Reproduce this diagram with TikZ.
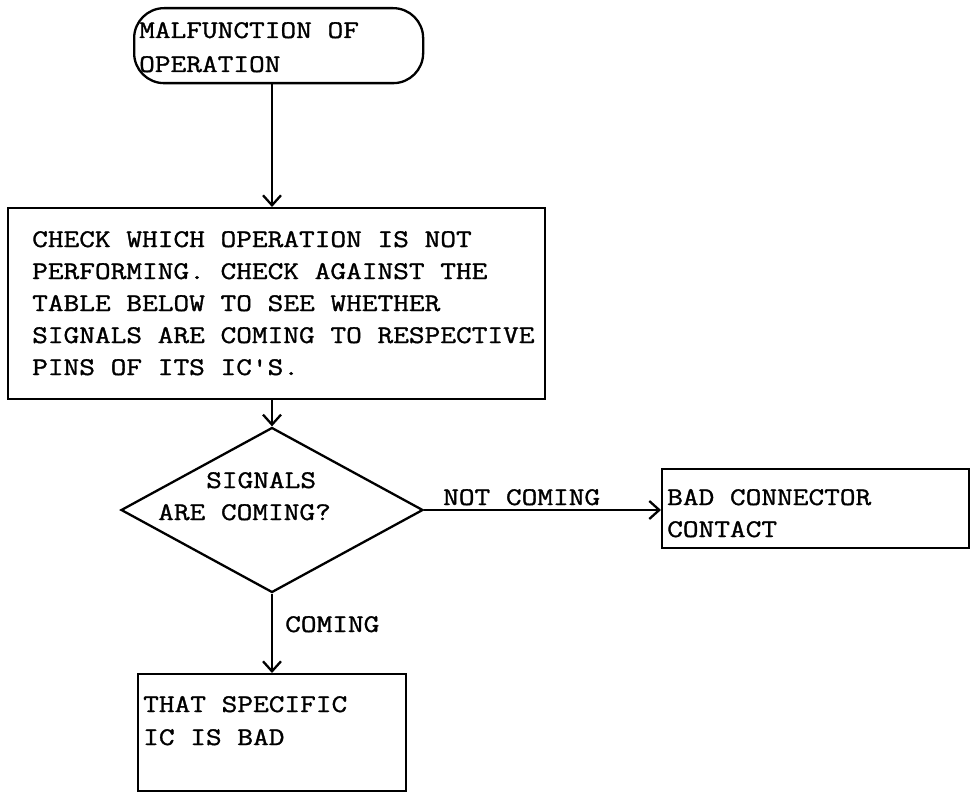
\documentclass[tikz,border=0pt]{standalone}
\usepackage{fontspec}
\setmonofont{Latin Modern Mono}[FakeStretch=1.2,FakeBold=1.3]
\usetikzlibrary{arrows.meta,shapes.geometric}
\begin{document}
\begin{tikzpicture}[x=1pt,y=-1pt,
  lbl/.style={font=\ttfamily\fontsize{25.4}{32}\selectfont, anchor=base west, inner sep=0pt},
  box/.style={draw, line width=2.3pt, inner sep=0pt, anchor=north west},
  arr/.style={line width=2.3pt, -{Straight Barb[length=10pt,width=18pt,line width=2.3pt]}}]
\useasboundingbox (0,0) rectangle (972,792);
% shapes
\node[box, rounded corners=30pt, minimum width=289, minimum height=75] (start) at (133,7) {};
\node[box, minimum width=537, minimum height=191] (main) at (7,207) {};
\node[draw, line width=2.3pt, diamond, inner sep=0pt, minimum width=302, minimum height=165] (dec) at (272,510) {};
\node[box, minimum width=307, minimum height=79] (bad) at (661,468) {};
\node[box, minimum width=268, minimum height=117] (ic) at (137,673) {};
% texts
\node[lbl] (s1) at (139,38) {MALFUNCTION OF};
\node[lbl] (s2) at (139,72) {OPERATION};
\node[lbl] (m1) at (32,247) {CHECK WHICH OPERATION IS NOT};
\node[lbl] (m2) at (32,279) {PERFORMING. CHECK AGAINST THE};
\node[lbl] (m3) at (32,311) {TABLE BELOW TO SEE WHETHER};
\node[lbl] (m4) at (32,343) {SIGNALS ARE COMING TO RESPECTIVE};
\node[lbl] (m5) at (32,375) {PINS OF ITS IC'S.};
\node[lbl] (d1) at (206,488) {SIGNALS};
\node[lbl] (d2) at (158,520) {ARE COMING?};
\node[lbl] (nc) at (443,505) {NOT COMING};
\node[lbl] (b1) at (667,505) {BAD CONNECTOR};
\node[lbl] (b2) at (667,537) {CONTACT};
\node[lbl] (co) at (285,632) {COMING};
\node[lbl] (i1) at (143,712) {THAT SPECIFIC};
\node[lbl] (i2) at (143,745) {IC IS BAD};
% connectors
\draw[arr] (start.south -| dec.north) -- (main.north -| dec.north);
\draw[arr] (main.south -| dec.north) -- (dec.north);
\draw[arr] (dec.east) -- (bad.west |- dec.east);
\draw[arr] (dec.south) -- (ic.north -| dec.south);
\end{tikzpicture}
\end{document}
